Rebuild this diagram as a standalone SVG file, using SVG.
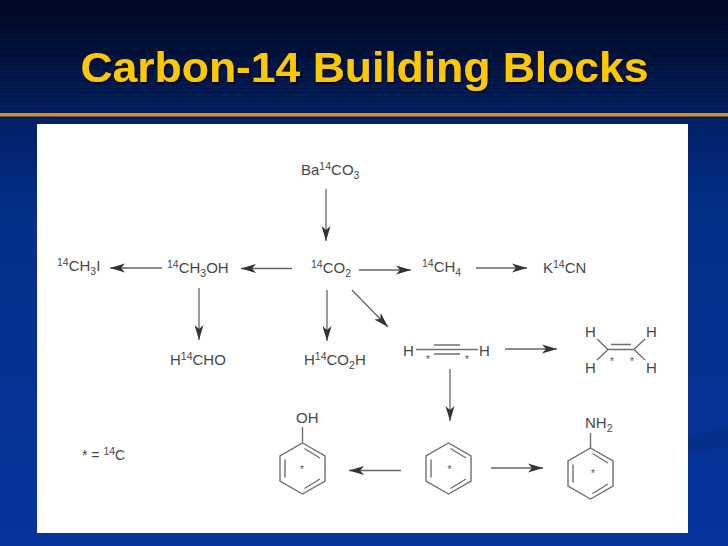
<svg xmlns="http://www.w3.org/2000/svg" width="728" height="546" viewBox="0 0 728 546">
<style>
text{font-family:"Liberation Sans",Arial,sans-serif}
.t{font-size:15px;fill:#484848}
.s{font-size:10.500px;fill:#484848}
.a{fill:none;stroke:#666;stroke-width:1.3;marker-end:url(#ah)}
.b{fill:none;stroke:#707070;stroke-width:1.4}
.st{font-size:10px;fill:#555}
</style>
<defs>
<linearGradient id="bg" x1="0" y1="0" x2="0" y2="1">
<stop offset="0" stop-color="#000824"/><stop offset="0.1" stop-color="#001240"/><stop offset="0.2" stop-color="#001f62"/><stop offset="0.4" stop-color="#04308a"/><stop offset="1" stop-color="#06339c"/>
</linearGradient>
<pattern id="scan" width="4" height="4" patternUnits="userSpaceOnUse"><rect width="4" height="1" fill="#000" opacity="0.18"/></pattern>
<marker id="ah" markerUnits="userSpaceOnUse" markerWidth="16" markerHeight="10" refX="15" refY="5" orient="auto">
<path d="M0 0.500L15 5L0 9.500L4 5Z" fill="#333"/>
</marker>
<filter id="sh" x="-5%" y="-20%" width="110%" height="140%"><feDropShadow dx="1.500" dy="1.500" stdDeviation="0.600" flood-color="#000" flood-opacity="0.9"/></filter>
<g id="ring"><path class="b" d="M0 -25.500L22.500 -12.500V12.500L0 25.500L-22.500 12.500V-12.500Z"/><path class="b" d="M-17.500 -9V9M2 -20L17.500 -10.500M2 20L17.500 10.500"/></g>
</defs>
<rect width="728" height="546" fill="url(#bg)"/>
<rect width="728" height="112" fill="url(#scan)"/>
<path d="M617 452L728 427V446L617 470Z" fill="#0a2a80" opacity="0.5"/>
<rect y="112" width="728" height="6" fill="#0a1a3a"/>
<rect y="113" width="728" height="3.500" fill="#c98f3f"/>
<text id="title" x="80.500" y="82" font-size="43" font-weight="700" fill="#fdc800" filter="url(#sh)" textLength="568" lengthAdjust="spacingAndGlyphs">Carbon-14 Building Blocks</text>
<rect x="37" y="124" width="651" height="409" fill="#fff"/>

<g id="connectors">
<path class="a" d="M326 189V241"/>
<path class="a" d="M292 268.500H241"/>
<path class="a" d="M162 268H110"/>
<path class="a" d="M199 288V340"/>
<path class="a" d="M327 290V341"/>
<path class="a" d="M352 290L388 327"/>
<path class="a" d="M359 270H411"/>
<path class="a" d="M476 268H527"/>
<path class="a" d="M505 349H557"/>
<path class="a" d="M450 369V421"/>
<path class="a" d="M401 470.500H349"/>
<path class="a" d="M491 468H543"/>
</g>

<g id="n-baco3"><text class="t" x="301" y="175">Ba<tspan class="s" dy="-5">14</tspan><tspan dy="5">CO</tspan><tspan class="s" dy="4">3</tspan></text></g>
<g id="n-co2"><text class="t" x="311" y="273"><tspan class="s" dy="-5">14</tspan><tspan dy="5">CO</tspan><tspan class="s" dy="4">2</tspan></text></g>
<g id="n-ch3oh"><text class="t" x="167" y="273"><tspan class="s" dy="-5">14</tspan><tspan dy="5">CH</tspan><tspan class="s" dy="4">3</tspan><tspan dy="-4">OH</tspan></text></g>
<g id="n-ch3i"><text class="t" x="57" y="271"><tspan class="s" dy="-5">14</tspan><tspan dy="5">CH</tspan><tspan class="s" dy="4">3</tspan><tspan dy="-4">I</tspan></text></g>
<g id="n-ch4"><text class="t" x="422" y="272"><tspan class="s" dy="-5">14</tspan><tspan dy="5">CH</tspan><tspan class="s" dy="4">4</tspan></text></g>
<g id="n-kcn"><text class="t" x="543" y="273">K<tspan class="s" dy="-5">14</tspan><tspan dy="5">CN</tspan></text></g>
<g id="n-hcho"><text class="t" x="170" y="365">H<tspan class="s" dy="-5">14</tspan><tspan dy="5">CHO</tspan></text></g>
<g id="n-hco2h"><text class="t" x="304" y="365">H<tspan class="s" dy="-5">14</tspan><tspan dy="5">CO</tspan><tspan class="s" dy="4">2</tspan><tspan dy="-4">H</tspan></text></g>

<g id="n-acetylene">
<text class="t" x="403" y="356">H</text><text class="t" x="479" y="356">H</text>
<path class="b" d="M416 349.500H478M434 345H460M434 354H460"/>
<text class="st" x="428" y="363" text-anchor="middle">*</text><text class="st" x="467" y="363" text-anchor="middle">*</text>
</g>
<g id="n-ethylene">
<text class="t" x="585" y="337">H</text><text class="t" x="646" y="337">H</text>
<text class="t" x="585" y="373">H</text><text class="t" x="646" y="373">H</text>
<path class="b" d="M597 339L608 349.500H634L645 339M597 360L608 349.500M634 349.500L645 360M611 344.500H631"/>
<text class="st" x="612" y="365" text-anchor="middle">*</text><text class="st" x="632" y="365" text-anchor="middle">*</text>
</g>
<g id="n-benzene">
<use href="#ring" transform="translate(448.500 468.500)"/>
<text class="st" x="449.500" y="473" text-anchor="middle">*</text>
</g>
<g id="n-phenol">
<use href="#ring" transform="translate(302.500 468.500)"/>
<path class="b" d="M302.500 443V427"/>
<text class="t" x="296" y="423">OH</text>
<text class="st" x="302" y="473" text-anchor="middle">*</text>
</g>
<g id="n-aniline">
<use href="#ring" transform="translate(590.500 473.500)"/>
<path class="b" d="M590.500 448V433"/>
<text class="t" x="585" y="428">NH<tspan class="s" dy="4">2</tspan></text>
<text class="st" x="593" y="477" text-anchor="middle">*</text>
</g>
<g id="legend"><text x="82" y="460" font-size="14" fill="#484848">* = <tspan class="s" dy="-5">14</tspan><tspan dy="5">C</tspan></text></g>
</svg>
